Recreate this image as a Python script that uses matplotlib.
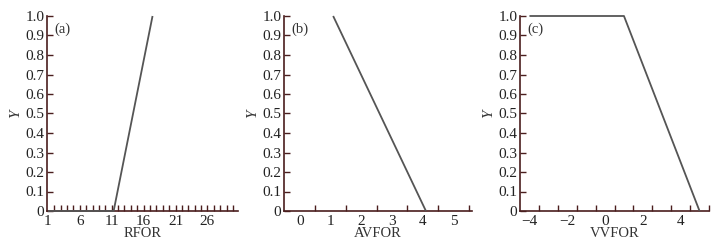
import numpy as np
import matplotlib
matplotlib.use("Agg")
import matplotlib.pyplot as plt

plt.rcParams['font.family'] = ['Liberation Serif', 'DejaVu Serif']

# membership curves
rfor_x = [1, 11.3, 17.4]
rfor_y = [0, 0, 1.0]
avfor_x = [1.08, 4.1]
avfor_y = [1.0, 0]
vvfor_x = [-4, 1, 5]
vvfor_y = [1.0, 1.0, 0]

rfor_labels = [1, 6, 11, 16, 21, 26]
rfor_minor = list(range(2, 31))
avfor_labels = [0, 1, 2, 3, 4, 5]
avfor_minor = [0.5, 1.5, 2.5, 3.5, 4.5, 5.5]
vvfor_labels = [-4, -2, 0, 2, 4]
vvfor_minor = [-3.5, -2.5, -1.5, -0.5, 0.5, 1.5, 2.5, 3.5, 4.5, 5.5]
yticks = [0, 0.1, 0.2, 0.3, 0.4, 0.5, 0.6, 0.7, 0.8, 0.9, 1.0]
ylabels = ['0'] + ['%.1f' % v for v in yticks[1:]]

spine_c = '#4a1e1e'
line_c = '#555555'
W, H = 722, 245
fs = 11

fig = plt.figure(figsize=(W / 100, H / 100), dpi=100)

panels = [
    # left, right px, x data, y data, xlim, labels, minor ticks, xlabel, tag
    (47, 238, rfor_x, rfor_y, (0.85, 30.8), rfor_labels, rfor_minor, 'RFOR', '(a)'),
    (284, 472, avfor_x, avfor_y, (-0.52, 5.6), avfor_labels, avfor_minor, 'AVFOR', '(b)'),
    (520, 709, vvfor_x, vvfor_y, (-4.5, 5.5), vvfor_labels, vvfor_minor, 'VVFOR', '(c)'),
]
top, bottom = 16, 211

for l, r, xs, ys, xlim, labs, minor, xlab, tag in panels:
    ax = fig.add_axes([l / W, 1 - bottom / H, (r - l) / W, (bottom - top) / H])
    ax.plot(xs, ys, color=line_c, lw=1.3, solid_capstyle='butt', clip_on=False, zorder=3)
    ax.set_xlim(*xlim)
    ax.set_ylim(0, 1.0)
    for s in ['top', 'right']:
        ax.spines[s].set_visible(False)
    for s in ['left', 'bottom']:
        ax.spines[s].set_color(spine_c)
        ax.spines[s].set_linewidth(1.2)
    ax.xaxis.remove_overlapping_locs = False
    ax.set_xticks(labs)
    ax.set_xticklabels([str(v).replace('-', '\u2212') for v in labs])
    ax.set_xticks(minor, minor=True)
    ax.set_yticks(yticks)
    ax.set_yticklabels(ylabels)
    ax.tick_params(axis='x', which='major', length=0, pad=3, labelsize=fs, colors='#222222')
    ax.tick_params(axis='x', which='minor', direction='in', length=4, width=1, color=spine_c)
    ax.tick_params(axis='y', direction='in', length=4, width=1, color=spine_c, labelsize=fs,
                   labelcolor='#222222', pad=2)
    ax.set_xlabel(xlab, fontsize=10.5, color='#333333', labelpad=-1)
    ax.set_ylabel('Y', fontsize=fs, style='italic', color='#333333', labelpad=2)
    ax.text(0.04, 0.965, tag, transform=ax.transAxes, fontsize=fs - 0.5, va='top', ha='left',
            color='#333333')

fig.savefig('out.png', dpi=100)
